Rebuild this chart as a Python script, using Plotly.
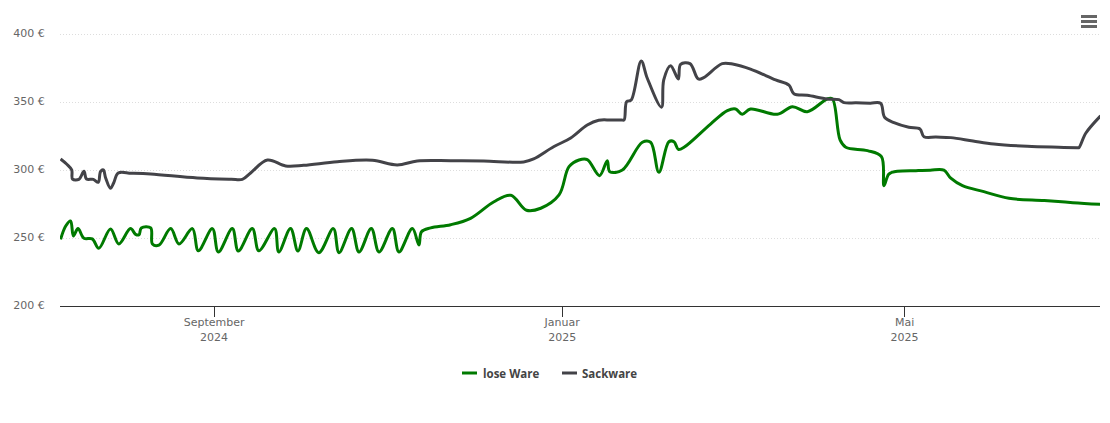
import pandas as pd
import plotly.graph_objects as go

START = pd.Timestamp("2024-07-09")
RANGE_DAYS = [0.0, 364.5]

sack_days = [0.2,2.3,4.1,4.4,6.6,8.4,9.3,11.7,13.4,14.2,15.2,16,17.7,18.8,20.4,25,31.8,48.1,60,63.9,66.8,72.7,79.1,85.4,97.2,109.5,118.2,125.2,136.9,148.5,162.5,166,173,179,184.8,188.8,193,196.8,197.7,198.6,200.2,203.7,205.8,210.8,211.6,214,216.7,217.5,220.8,223.7,225.6,232.1,236.1,242,250.8,255.5,257.2,261.9,268.9,273,274.8,279,284,287.6,289,292.3,297.5,301.4,302.8,307,312.2,320,327.3,339,350,356.6,357.1,359.5,364.7]
sack_vals = [308.3,304.6,300.2,293.5,293.3,299.2,293.5,293.3,291.1,298.9,300.2,294.3,286.7,290.6,298,297.8,297.2,294.3,293.4,293.3,298,307.5,303.1,303.6,306.3,307.3,303.9,306.8,307,306.8,306.1,308.3,317.3,323.7,333.3,336.8,337,337,337,350.5,351.7,380.5,367.9,346.4,366.5,377,367.2,378,378.5,367.2,368.2,378.5,378,374.4,366.5,362.6,356.4,355.2,352.5,352,349.8,349.6,349.4,349.3,339,335,331.6,330.4,324.7,324.4,324,321.5,319.3,317.6,316.9,316.6,316.6,327.2,340]

lose_days = [0.2,2,3.7,4.7,6.3,8.4,11.3,13.6,17.7,20.6,24.7,26.5,27.7,28.5,31.8,32.4,34.7,38.8,41.7,46.4,48.5,53.4,55.5,60.4,62.5,67.4,69.7,75.2,76.7,80.8,83.4,86.4,90.7,95.8,97.8,102.2,104.8,109.1,111.8,116.5,118.8,123.5,125.8,126.7,129.9,136.9,143.9,152.1,158,163.5,168.5,174.9,178.4,181.9,184.8,189.1,191.8,192.7,197.1,204.1,207,209.9,213.4,215.2,216.7,218.7,228,233.9,236.8,239.1,242,251.4,256.7,261.9,268.9,270.7,273.4,275.4,283,287.9,288.8,290.5,293.5,300,305,309.8,312.2,316.3,323.8,332.6,345,355,364.7]
lose_vals = [249.1,258.9,262.6,251.6,257,249.9,249.4,242.5,256.7,245.7,257,252.8,252.5,257.5,257.5,245.7,244.9,257,245.7,257,240.7,257,239.8,257,240.5,257,240.7,257,239.8,257,240.5,257,239.3,257,239.3,257,239.8,257,239.8,257,239.8,257,244.9,254.7,257.5,259.9,264.6,276.8,281.5,270.5,272,281.8,302.6,307.5,307.8,296,307,298.9,300.2,320.6,320.6,298.5,321,321,315.4,316.9,334,343.9,345.1,341.2,345.1,341.2,346.8,343.1,352.5,352.5,322.3,316.9,314.4,310,288.6,297.2,299.2,299.7,300,300,294.1,288.6,284.2,279.3,277.7,276.1,274.9]

y_ticks = [200, 250, 300, 350, 400]
y_labels = ["200 €", "250 €", "300 €", "350 €", "400 €"]
x_ticks = ["2024-09-01", "2025-01-01", "2025-05-01"]
x_labels = ["September<br>2024", "Januar<br>2025", "Mai<br>2025"]
series_names = ["lose Ware", "Sackware"]
series_colors = ["#007a00", "#434348"]

def to_dates(days):
    return [START + pd.Timedelta(days=d) for d in days]

fig = go.Figure()
for name, color, days, vals in zip(series_names, series_colors, [lose_days, sack_days], [lose_vals, sack_vals]):
    fig.add_trace(go.Scatter(x=to_dates(days), y=vals, mode="lines", name=name,
                             line=dict(color=color, width=3, shape="spline", smoothing=1.0)))

fnt = dict(family="DejaVu Sans", size=11, color="#666666")
PX = lambda x: (x - 60) / 1040
PY = lambda y: (306 - y) / 296

menu_bars = [dict(type="rect", xref="paper", yref="paper", x0=PX(1081), x1=PX(1097),
                  y0=PY(t + 3), y1=PY(t), fillcolor="#666666", line=dict(width=0))
             for t in (15, 20, 25)]
legend_lines = [dict(type="line", xref="paper", yref="paper", x0=PX(a), x1=PX(a + 15), y0=PY(373), y1=PY(373),
                     line=dict(color=c, width=3))
                for a, c in zip((462, 562), series_colors)]
legend_text = [dict(text=n, xref="paper", yref="paper", x=PX(a), y=PY(373), xanchor="left", yanchor="middle",
                    showarrow=False, xshift=-2,
                    font=dict(family="Open Sans", size=11.5, color="#444444", weight=700))
               for n, a in zip(series_names, (483, 582))]

fig.update_layout(
    width=1110, height=423, autosize=False,
    margin=dict(l=60, r=10, t=10, b=117, pad=0),
    paper_bgcolor="white", plot_bgcolor="white",
    font=fnt, showlegend=False,
    xaxis=dict(type="date", range=[START + pd.Timedelta(days=RANGE_DAYS[0]), START + pd.Timedelta(days=RANGE_DAYS[1])],
               tickmode="array", tickvals=x_ticks, ticktext=x_labels, ticks="outside", ticklen=10,
               tickcolor="#333333", tickwidth=1, showgrid=False, showline=True, linecolor="#333333",
               linewidth=1, zeroline=False, tickfont=fnt, ticklabelstandoff=-4),
    yaxis=dict(range=[200, 418], tickmode="array", tickvals=y_ticks, ticktext=y_labels,
               showgrid=True, griddash="1px,2px", gridcolor="#dddddd", gridwidth=1, zeroline=False,
               ticks="outside", ticklen=12, tickcolor="rgba(0,0,0,0)", tickfont=fnt, showline=False,
               ticklabelshift=-1),
    shapes=menu_bars + legend_lines,
    annotations=legend_text,
)
fig.write_html("out.html", config=dict(displayModeBar=False),
               post_script="document.body.style.margin='0';")
